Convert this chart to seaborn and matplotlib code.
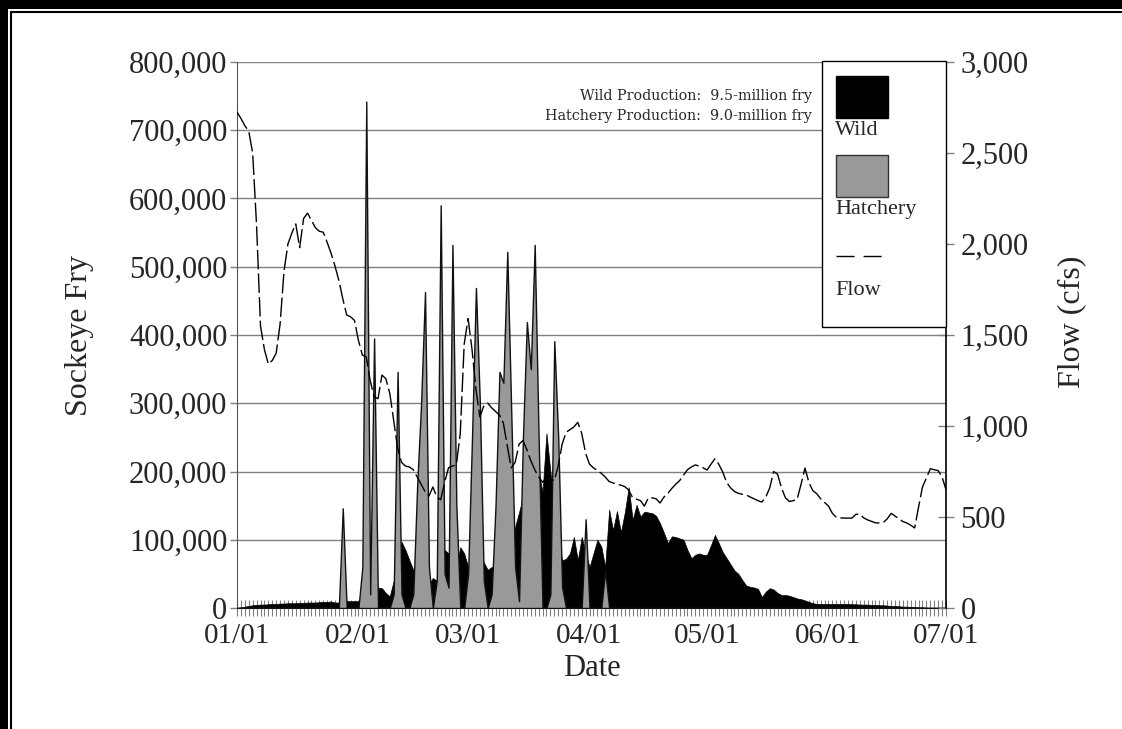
import numpy as np
import pandas as pd
import matplotlib
matplotlib.use("Agg")
import matplotlib.pyplot as plt
import matplotlib.dates as mdates
from matplotlib.ticker import FuncFormatter
from matplotlib.patches import Rectangle
from matplotlib.lines import Line2D
import seaborn as sns

# ---------------- data (daily, 01/01 .. 07/01) ----------------
dates = pd.date_range("2001-01-01", "2001-07-01", freq="D")

# Wild sockeye fry (thousands)
wild_k = [
    0, 1, 2, 3, 4, 4.5, 5, 5, 5.5, 6,
    6, 6.5, 6.5, 7, 7, 7, 7.5, 7.5, 8, 8,
    8, 8.5, 9, 9, 9.5, 8, 8, 9, 10, 10,
    10, 10, 12, 20, 25, 30, 30, 29, 22, 17,
    40, 75, 97, 85, 70, 56, 50, 45, 40, 35,
    44, 40, 60, 85, 80, 70, 60, 89, 80, 60,
    50, 50, 55, 67, 56, 60, 60, 60, 60, 70,
    90, 119, 140, 163, 170, 180, 190, 200, 170, 256,
    200, 150, 100, 70, 72, 80, 104, 70, 104, 80,
    60, 80, 100, 90, 60, 144, 114, 142, 111, 140,
    177, 129, 151, 134, 141, 140, 139, 135, 124, 110,
    95, 105, 104, 102, 100, 85, 73, 78, 80, 78,
    78, 92, 107, 95, 82, 73, 64, 55, 50, 41,
    33, 31, 30, 28, 16, 24, 29, 27, 22, 19,
    19, 18, 16, 14, 13, 11, 9, 7, 6, 6,
    6, 6, 6, 6, 6, 6, 6, 5.5, 5.5, 5,
    5, 5, 4.5, 4.5, 4, 4, 3.5, 3, 3, 2.5,
    2, 2, 1.5, 1.5, 1, 1, 0.5, 0, 0, 0,
    0, 0,
]

# Hatchery sockeye fry (thousands)
hatchery_k = [
    0, 0, 0, 0, 0, 0, 0, 0, 0, 0,
    0, 0, 0, 0, 0, 0, 0, 0, 0, 0,
    0, 0, 0, 0, 0, 0, 0, 146, 0, 0,
    0, 0, 60, 742, 20, 395, 0, 0, 0, 0,
    20, 346, 20, 0, 0, 20, 180, 300, 463, 60,
    0, 40, 590, 50, 30, 532, 150, 0, 0, 50,
    250, 469, 300, 40, 0, 20, 150, 346, 330, 522,
    290, 60, 10, 250, 419, 350, 532, 250, 0, 0,
    20, 391, 250, 30, 0, 0, 0, 0, 0, 130,
    0, 0, 0, 0, 55, 0, 0, 0, 0, 0,
    0, 0, 0, 0, 0, 0, 0, 0, 0, 0,
    0, 0, 0, 0, 0, 0, 0, 0, 0, 0,
    0, 0, 0, 0, 0, 0, 0, 0, 0, 0,
    0, 0, 0, 0, 0, 0, 0, 0, 0, 0,
    0, 0, 0, 0, 0, 0, 0, 0, 0, 0,
    0, 0, 0, 0, 0, 0, 0, 0, 0, 0,
    0, 0, 0, 0, 0, 0, 0, 0, 0, 0,
    0, 0, 0, 0, 0, 0, 0, 0, 0, 0,
    0, 0,
]

# River flow (cfs)
flow_cfs = [
    2725, 2690, 2650, 2620, 2500, 2100, 1550, 1420, 1340, 1360,
    1400, 1560, 1850, 2000, 2060, 2110, 1980, 2140, 2170, 2130,
    2090, 2070, 2065, 2010, 1950, 1880, 1800, 1700, 1610, 1600,
    1580, 1470, 1390, 1380, 1250, 1160, 1150, 1280, 1260, 1180,
    1030, 880, 800, 780, 775, 760, 720, 680, 640, 615,
    665, 610, 595, 690, 770, 780, 786, 960, 1450, 1590,
    1420, 1200, 1050, 1110, 1126, 1100, 1080, 1060, 1016, 890,
    770, 800, 900, 920, 870, 810, 760, 720, 692, 710,
    710, 700, 780, 900, 965, 980, 995, 1020, 960, 850,
    790, 770, 755, 740, 720, 695, 687, 680, 675, 667,
    648, 606, 598, 590, 560, 605, 605, 600, 577, 610,
    630, 657, 680, 700, 730, 760, 775, 786, 780, 770,
    758, 790, 820, 790, 747, 690, 660, 640, 630, 625,
    621, 610, 600, 590, 582, 610, 660, 750, 735, 660,
    606, 585, 590, 598, 680, 769, 690, 645, 628, 600,
    580, 560, 520, 498, 495, 494, 494, 494, 515, 515,
    495, 484, 476, 468, 467, 470, 490, 520, 505, 490,
    475, 467, 455, 440, 555, 665, 715, 765, 760, 755,
    720, 650,
]

left_ticks = [0, 100000, 200000, 300000, 400000, 500000, 600000, 700000, 800000]
right_ticks = [0, 500, 1000, 1500, 2000, 2500, 3000]

df = pd.DataFrame({
    "date": dates,
    "wild": np.array(wild_k) * 1000.0,
    "hatchery": np.array(hatchery_k) * 1000.0,
    "flow": flow_cfs,
})

# ---------------- style ----------------
sns.set_style("white")
plt.rcParams["font.family"] = ["Liberation Serif", "DejaVu Serif"]

W, H = 1122, 729
fig = plt.figure(figsize=(W / 100, H / 100), dpi=100)
fig.subplots_adjust(left=237 / W, right=946 / W, bottom=1 - 608 / H, top=1 - 62 / H)
ax = fig.add_subplot(111)

def fx(px):
    return px / W

def fy(py):
    return 1 - py / H

GRID = "#808080"

# areas
ax.fill_between(df["date"], 0, df["wild"], facecolor="black", edgecolor="black",
                linewidth=0.5, zorder=2)
ax.fill_between(df["date"], 0, df["hatchery"], facecolor="#999999", edgecolor="#111111",
                linewidth=1.0, zorder=3)

ax.set_xlim(dates[0], dates[-1])
ax.set_ylim(0, 800000)
ax.set_yticks(left_ticks)
ax.yaxis.set_major_formatter(FuncFormatter(lambda v, p: f"{int(v):,}"))
ax.grid(True, axis="y", color=GRID, linewidth=1)
ax.grid(False, axis="x")
ax.set_axisbelow(True)

ax.xaxis.set_major_locator(mdates.MonthLocator())
ax.xaxis.set_major_formatter(mdates.DateFormatter("%m/%d"))
ax.xaxis.set_minor_locator(mdates.DayLocator())
ax.tick_params(axis="x", which="both", bottom=True, direction="inout", length=12,
               width=0.8, color=GRID, labelsize=21, pad=5)
ax.tick_params(axis="y", which="major", left=True, direction="out", length=5,
               width=1, color=GRID, labelsize=22, pad=2)
for s in ["top", "right"]:
    ax.spines[s].set_visible(False)
ax.spines["left"].set_color("#555555")
ax.spines["bottom"].set_color(GRID)
ax.set_xlabel("")
ax.set_ylabel("")

# flow on secondary axis
ax2 = ax.twinx()
sns.lineplot(data=df, x="date", y="flow", ax=ax2, color="black", linewidth=1.0)
fl = ax2.get_lines()[-1]
fl.set_dashes([14, 3])
ax2.set_ylim(0, 3000)
ax2.set_yticks(right_ticks)
ax2.yaxis.set_major_formatter(FuncFormatter(lambda v, p: f"{int(v):,}"))
ax2.tick_params(axis="y", right=True, direction="inout", length=11, width=1,
                color=GRID, labelsize=22, pad=5)
ax2.set_xlabel("")
ax2.set_ylabel("")
ax2.grid(False)
for s in ["top", "left", "bottom"]:
    ax2.spines[s].set_visible(False)
ax2.spines["right"].set_color("black")
ax2.spines["right"].set_linewidth(1.2)
ax2.set_xlim(dates[0], dates[-1])

# axis titles
fig.text(fx(80), fy(336), "Sockeye Fry", rotation=90, ha="center", va="center", fontsize=23)
fig.text(fx(592), fy(668), "Date", ha="center", va="center", fontsize=22)
fig.text(fx(1072), fy(322), "Flow (cfs)", rotation=90, ha="center", va="center", fontsize=23)

# production annotation
fig.text(fx(812), fy(96), "Wild Production:  9.5-million fry", ha="right", va="center",
         fontsize=10.3, family=["DejaVu Serif"])
fig.text(fx(812), fy(116), "Hatchery Production:  9.0-million fry", ha="right", va="center",
         fontsize=10.3, family=["DejaVu Serif"])

# legend box (manual, text beneath each key)
fig.add_artist(Rectangle((fx(822), fy(327)), (946 - 822) / W, (327 - 61) / H,
                         transform=fig.transFigure, facecolor="white", edgecolor="black",
                         linewidth=1, zorder=5))
fig.add_artist(Rectangle((fx(836), fy(118)), 52 / W, 42 / H, transform=fig.transFigure,
                         facecolor="black", edgecolor="black", linewidth=1, zorder=6))
fig.text(fx(835), fy(121), "Wild", ha="left", va="top", fontsize=16, zorder=7)
fig.add_artist(Rectangle((fx(836), fy(197)), 52 / W, 42 / H, transform=fig.transFigure,
                         facecolor="#999999", edgecolor="#333333", linewidth=1, zorder=6))
fig.text(fx(835), fy(200), "Hatchery", ha="left", va="top", fontsize=16, zorder=7)
fig.add_artist(Line2D([fx(836), fx(888)], [fy(256), fy(256)], transform=fig.transFigure,
                      color="black", linewidth=1, dashes=[13, 6.5], zorder=6))
fig.text(fx(835), fy(281), "Flow", ha="left", va="top", fontsize=16, zorder=7)

# outer frame
fig.add_artist(Rectangle((0, fy(9)), 1, 9 / H, transform=fig.transFigure,
                         facecolor="black", edgecolor="none", zorder=8))
fig.add_artist(Rectangle((0, 0), 8 / W, 1, transform=fig.transFigure,
                         facecolor="black", edgecolor="none", zorder=8))
fig.add_artist(Line2D([fx(11), 1], [fy(12), fy(12)], transform=fig.transFigure,
                      color="black", linewidth=1.5, zorder=8))
fig.add_artist(Line2D([fx(11), fx(11)], [fy(12), 0], transform=fig.transFigure,
                      color="black", linewidth=1.5, zorder=8))

fig.savefig("out.png", dpi=100)
